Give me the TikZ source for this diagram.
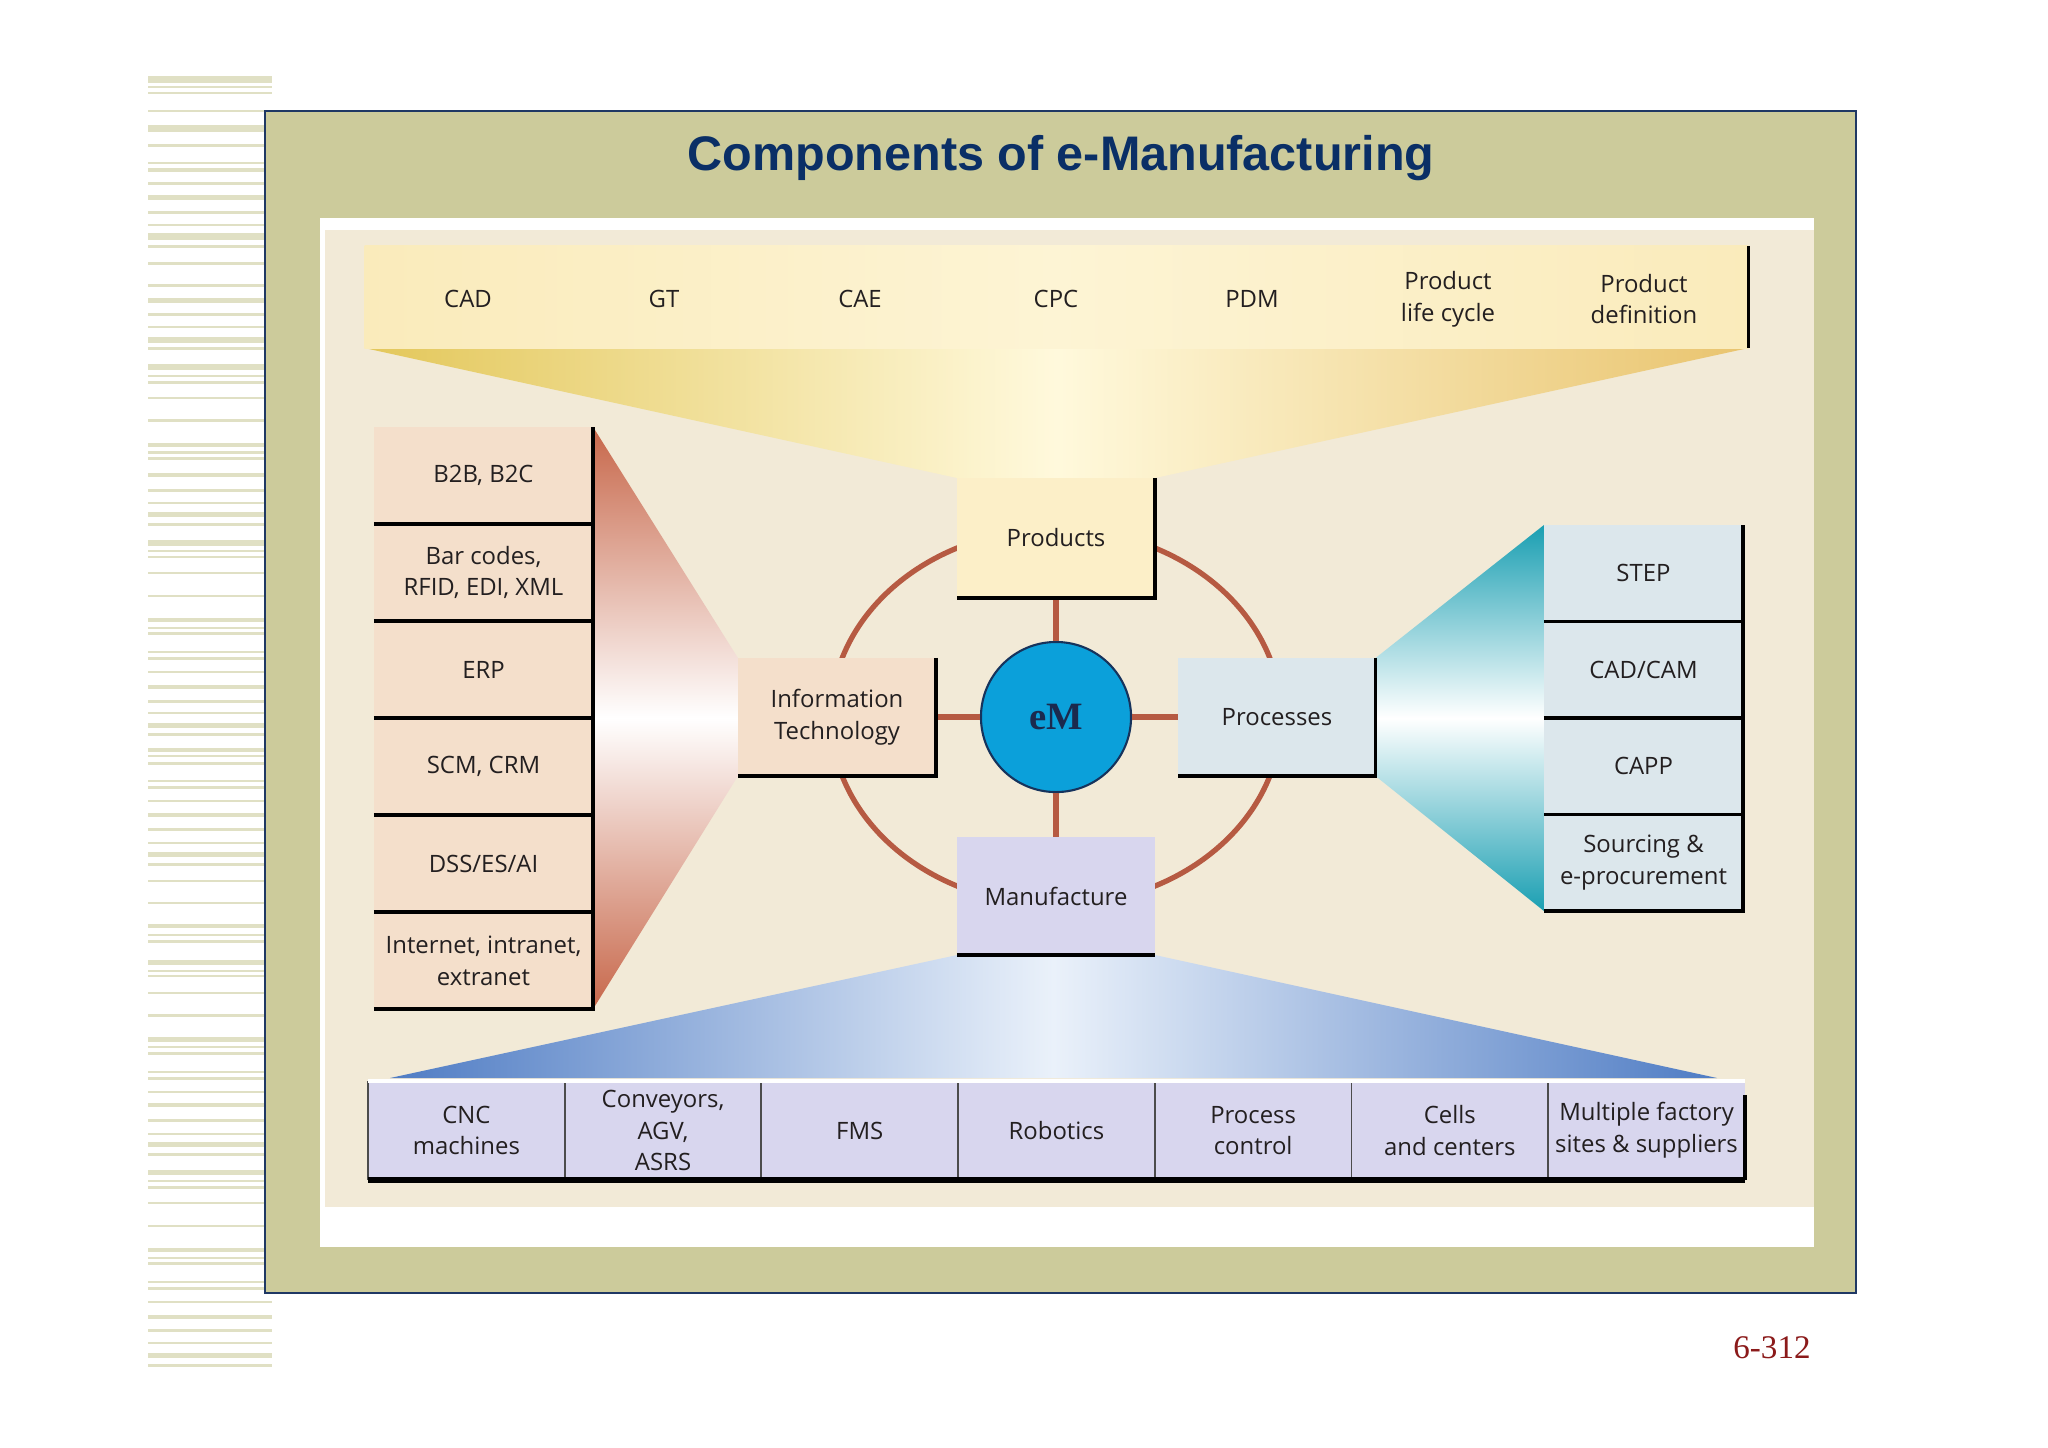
\documentclass[tikz,border=0pt]{standalone}
\usepackage{fontspec}
\setmainfont{Open Sans}
\newfontfamily\titlefont{Liberation Sans}
\newfontfamily\serfont{Liberation Serif}
\usetikzlibrary{calc}

\pgfdeclarelayer{bg}
\pgfsetlayers{bg,main}

\definecolor{stripe}{HTML}{E0E0C4}
\definecolor{frameolive}{HTML}{CCCB9B}
\definecolor{framenavy}{HTML}{1F3864}
\definecolor{titlenavy}{HTML}{0A2F66}
\definecolor{cream}{HTML}{F2EAD7}
\definecolor{bandyellow}{HTML}{FAEBBB}
\definecolor{bandmid}{HTML}{FDF4D4}
\definecolor{ochreL}{HTML}{E3C75A}
\definecolor{ochreM}{HTML}{FFF9DC}
\definecolor{ochreR}{HTML}{E9C46E}
\definecolor{blueedge}{HTML}{4F7CC4}
\definecolor{bluemid}{HTML}{EAF1FA}
\definecolor{terra}{HTML}{C7674A}
\definecolor{teal}{HTML}{1A9FB2}
\definecolor{peach}{HTML}{F4DFCB}
\definecolor{paleblue}{HTML}{DCE7EC}
\definecolor{lavender}{HTML}{D8D6EE}
\definecolor{prodyellow}{HTML}{FCEFC8}
\definecolor{ringred}{HTML}{B65A42}
\definecolor{emblue}{HTML}{0BA0DA}
\definecolor{emnavy}{HTML}{16335C}
\definecolor{emtext}{HTML}{1B2A4E}
\definecolor{pagered}{HTML}{8B1A1A}
\definecolor{ink}{HTML}{231F20}

\begin{document}
\begin{tikzpicture}[x=0.01cm, y=-0.01cm,
  lbl/.style={font=\fontsize{6.8}{9}\selectfont, text=ink, align=center, inner sep=0pt},
  box/.style={lbl, minimum width=1.98cm, minimum height=1.18cm, outer sep=0pt},
  lcell/.style={lbl, fill=peach, minimum width=2.19cm, minimum height=0.97cm, outer sep=0pt},
  rcell/.style={lbl, fill=paleblue, minimum width=1.99cm, minimum height=0.965cm, outer sep=0pt},
  bcell/.style={lbl, fill=lavender, minimum width=1.967cm, minimum height=0.99cm, outer sep=0pt},
  rim/.style={draw=black, line width=0.9pt},
  spoke/.style={draw=ringred, line width=1.5pt},
  orbit/.style={draw=ringred, line width=1.5pt}]

  % centre of the wheel
  \node[circle, fill=emblue, draw=emnavy, line width=0.6pt, minimum size=1.5cm, inner sep=0pt,
        font=\serfont\bfseries\fontsize{11}{12}\selectfont, text=emtext] (em) at (1056,717) {eM};

  \node[box, fill=prodyellow, minimum height=1.2cm] (prod) at (1056,538) {Products};
  \node[box, fill=lavender] (manu) at (1056,896) {Manufacture};
  \node[box, fill=peach] (it) at (837,717) {Information\\Technology};
  \node[box, fill=paleblue, minimum width=1.97cm] (proc) at (1277,717) {Processes};

  \draw[spoke] (em) -- (prod);
  \draw[spoke] (em) -- (manu);
  \draw[spoke] (em) -- (it);
  \draw[spoke] (em) -- (proc);

  % top band
  \node[lbl, left color=bandyellow, right color=bandyellow, middle color=bandmid,
        minimum width=13.83cm, minimum height=1.02cm, outer sep=0pt] (band) at (1056.5,297) {};
  \foreach \txt [count=\i from 0] in {CAD, GT, CAE, CPC, PDM, {Product\\life cycle}, {Product\\definition}}
    \node[lbl] (tl\i) at ({468+196*\i}, 299) {\txt};

  % left column
  \foreach \txt [count=\i from 0] in {{B2B, B2C}, {Bar codes,\\RFID, EDI, XML}, ERP, {SCM, CRM}, DSS/ES/AI, {Internet, intranet,\\extranet}}
    \node[lcell] (lc\i) at (483.5, {475.5+97*\i}) {\txt};

  % right column
  \foreach \txt [count=\i from 0] in {STEP, CAD/CAM, CAPP, {Sourcing \&\\e-procurement}}
    \node[rcell] (rc\i) at (1643.5, {573.25+96.5*\i}) {\txt};

  % bottom row
  \foreach \txt [count=\i from 0] in {{CNC\\machines}, {Conveyors,\\AGV,\\ASRS}, FMS, Robotics, {Process\\control}, {Cells\\and centers}, {Multiple factory\\sites \& suppliers}}
    \node[bcell] (bc\i) at ({466.35+196.7*\i}, 1130.5) {\txt};

  % edges of the boxes
  \draw[rim] (band.north east) -- (band.south east);
  \draw[rim] (prod.north east) -- (prod.south east) -- (prod.south west);
  \draw[rim] (it.north east) -- (it.south east) -- (it.south west);
  \draw[rim] (proc.north east) -- (proc.south east) -- (proc.south west);
  \draw[rim] (manu.south west) -- (manu.south east);
  \foreach \i in {0,...,5}
    \draw[rim] (lc\i.south west) -- (lc\i.south east) -- (lc\i.north east);
  \foreach \i in {0,...,3}
    \draw[rim] (rc\i.south west) -- (rc\i.south east) -- (rc\i.north east);
  \foreach \i in {0,...,6}
    \draw[black!70, line width=0.5pt] (bc\i.north west) -- (bc\i.south west);
  \draw[white, line width=1pt] (bc0.north west) -- (bc6.north east);
  \draw[rim] ($(bc6.north east)+(0,14)$) -- (bc6.south east);
  \draw[black, line width=1.6pt] (bc0.south west) -- (bc6.south east);

  \node[font=\titlefont\bfseries\fontsize{13.8}{16}\selectfont, text=titlenavy] (title) at (1061,158) {Components of e-Manufacturing};
  \node[font=\serfont\fontsize{9.4}{11}\selectfont, text=pagered] (pgno) at (1772,1348) {6-312};

  \begin{pgfonlayer}{bg}
    \fill[white] (0,0) rectangle (2048,1447);
    % side stripes
    \foreach \ya/\yb in {76/83, 86/88, 92/94, 110/112, 125/132, 144/147, 162/164, 168/172, 182/185, 195/200,
        211/214, 224/226, 233/240, 245/248, 262/265, 284/287, 298/303, 313/316, 326/328, 337/343,
        347/350, 364/370, 375/377, 381/384, 397/399, 419/422, 443/447, 451/454, 457/460, 473/477,
        489/492, 502/504, 512/517, 523/526, 540/546, 550/552, 556/558, 572/574, 595/597, 618/622,
        627/629, 632/635, 651/653, 657/660, 671/673, 685/689, 700/703, 712/714, 723/728, 733/736,
        748/752, 755/757, 762/765, 780/782, 786/789, 800/802, 813/817, 828/831, 842/844, 852/857,
        863/866, 880/882, 902/904, 924/928, 934/936, 940/943, 960/965, 970/972, 975/977, 992/994,
        1014/1017, 1037/1042, 1046/1048, 1052/1055, 1071/1073, 1077/1080, 1091/1093, 1103/1107,
        1119/1122, 1133/1135, 1142/1147, 1153/1156, 1170/1175, 1180/1182, 1186/1189, 1202/1204,
        1225/1227, 1248/1252, 1257/1259, 1262/1265, 1281/1283, 1287/1290, 1301/1303, 1315/1319,
        1329/1332, 1342/1344, 1353/1358, 1364/1367}
      \fill[stripe] (148,\ya) rectangle (272,\yb);
    \draw[framenavy, line width=0.8pt, fill=frameolive] (265,111) rectangle (1856,1293);
    \fill[white] (320,218) rectangle (1814,1247);
    \fill[cream] (325,230) rectangle (1814,1207);

    % funnels
    \shade[left color=ochreL, right color=ochreR, middle color=ochreM]
      (band.south west) -- (band.south east) -- (prod.north east) -- (prod.north west) -- cycle;
    \coordinate (bl) at (390,1078);
    \coordinate (br) at (1717,1078);
    \shade[left color=blueedge, right color=blueedge, middle color=bluemid]
      (manu.south west) -- (manu.south east) -- (br) -- (bl) -- cycle;
    \shade[top color=terra, bottom color=terra, middle color=white]
      (lc0.north east) -- (it.north west) -- (it.south west) -- (lc5.south east) -- cycle;
    \shade[top color=teal, bottom color=teal, middle color=white]
      (proc.north east) -- (rc0.north west) -- (rc3.south west) -- (proc.south east) -- cycle;

    \draw[orbit] (em.center) ellipse [x radius=2.25cm, y radius=1.88cm];
  \end{pgfonlayer}
\end{tikzpicture}
\end{document}
